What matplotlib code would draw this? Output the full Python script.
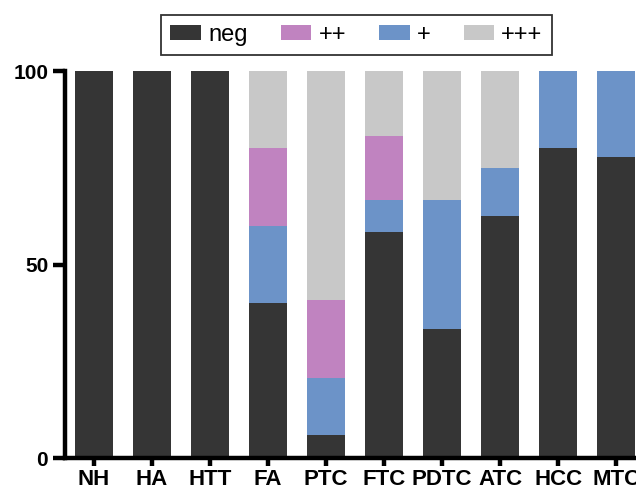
import matplotlib
matplotlib.use("Agg")
import matplotlib.pyplot as plt
import numpy as np

categories = ["NH", "HA", "HTT", "FA", "PTC", "FTC", "PDTC", "ATC", "HCC", "MTC"]
neg   = [100, 100, 100, 40, 5.9, 58.3, 33.3, 62.5, 80.0, 77.8]
plus1 = [0, 0, 0, 20, 14.7, 8.4, 33.4, 12.5, 20.0, 22.2]
plus2 = [0, 0, 0, 20, 20.3, 16.6, 0, 0, 0, 0]
plus3 = [0, 0, 0, 20, 59.1, 16.7, 33.3, 25.0, 0, 0]

colors = {"neg": "#353535", "++": "#C083C0", "+": "#6C93C8", "+++": "#C8C8C8"}

plt.rcParams['font.family'] = ['Liberation Sans', 'DejaVu Sans']
fig = plt.figure(figsize=(6.36, 4.9), dpi=100)
ax = fig.add_axes([0.102, 0.065, 0.898, 0.79])

x = np.arange(len(categories))
w = 0.66
b1 = np.array(neg)
b2 = b1 + np.array(plus1)
b3 = b2 + np.array(plus2)
h_neg = ax.bar(x, neg, w, color=colors["neg"], label="neg")
h_p1 = ax.bar(x, plus1, w, bottom=b1, color=colors["+"], label="+")
h_p2 = ax.bar(x, plus2, w, bottom=b2, color=colors["++"], label="++")
h_p3 = ax.bar(x, plus3, w, bottom=b3, color=colors["+++"], label="+++")

ax.set_xlim(-0.5, 9.34)
ax.set_ylim(0, 100)
ax.set_yticks([0, 50, 100])
ax.set_xticks(x)
ax.set_xticklabels(categories)
for s in ["top", "right"]:
    ax.spines[s].set_visible(False)
for s in ["left", "bottom"]:
    ax.spines[s].set_linewidth(3.2)
    ax.spines[s].set_capstyle("projecting")
ax.tick_params(axis="y", length=9, width=3.2, labelsize=15, pad=3)
ax.tick_params(axis="x", length=6, width=3.2, labelsize=16, pad=1.5)
for lab in ax.get_xticklabels() + ax.get_yticklabels():
    lab.set_fontweight("bold")

leg = fig.legend([h_neg, h_p2, h_p1, h_p3], ["neg", "++", "+", "+++"],
                 loc="center", bbox_to_anchor=(0.5605, 0.9286), ncol=4,
                 fontsize=17, frameon=True, fancybox=False, edgecolor="black",
                 handlelength=1.3, handleheight=0.6, columnspacing=1.4,
                 handletextpad=0.3, borderpad=0.38)
leg.get_frame().set_linewidth(1.3)

fig.savefig("out.png", dpi=100)
